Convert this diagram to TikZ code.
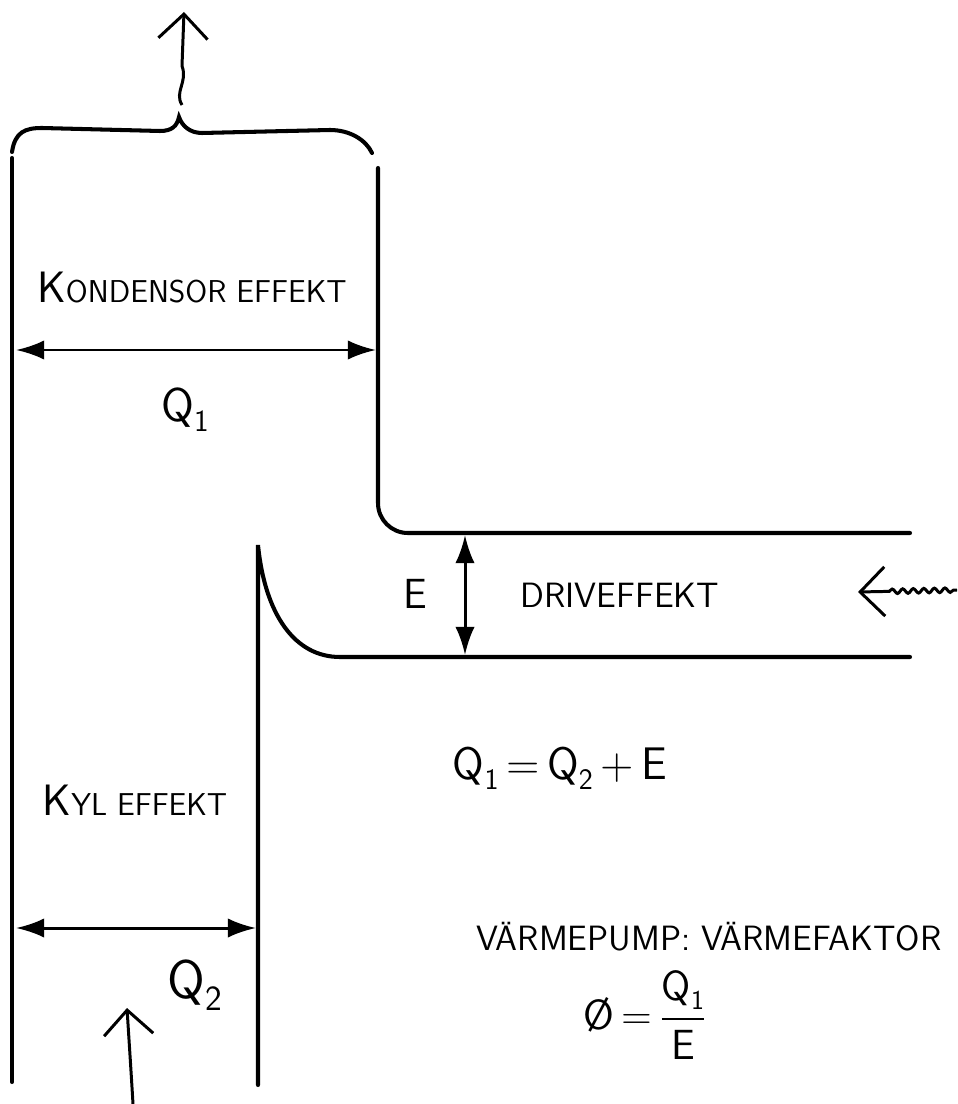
\documentclass[tikz,border=0pt]{standalone}
\usepackage{amsmath}
\usetikzlibrary{arrows.meta,decorations.pathmorphing}
\newcommand{\lowidx}[1]{\raisebox{-0.5ex}{\scalebox{0.65}{#1}}}
\tikzset{
  wall/.style={line width=2.3pt,line cap=round},
  dim/.style={line width=1.7pt,{Latex[length=16pt,width=11pt]}-{Latex[length=16pt,width=11pt]}},
  flow/.style={line width=1.7pt,-{Straight Barb[length=14pt,width=28pt]}},
  lbl/.style={font=\sffamily\fontsize{18}{20}\selectfont,inner sep=0pt},
  big/.style={font=\sffamily\fontsize{27}{30}\selectfont,inner sep=0pt}
}

\begin{document}
\begin{tikzpicture}[x=0.02cm,y=-0.02cm]
    \useasboundingbox (0,0) rectangle (957,1104);

    % Walls
    \coordinate (lw top) at (12,158);
    \coordinate (lw bot) at (12,1082);
    \coordinate (cw top) at (378,168);
    \coordinate (cw end) at (910,533);
    \coordinate (kw top) at (258,545);
    \coordinate (kw bot) at (258,1085);
    \coordinate (kw end) at (910,657);
    \draw[wall] (lw top) -- (lw bot);
    \draw[wall,rounded corners=17pt] (cw top) |- (cw end);
    \draw[wall] (kw bot) -- (kw top)
        .. controls (265,615) and (295,657) .. (340,657) -- (kw end);

    % Brace and outgoing heat
    \draw[wall] (12,152) .. controls (15,132) and (25,128) .. (42,128)
        -- (160,131) .. controls (172,131) and (177,126) .. (179,117)
        .. controls (182,126) and (190,133) .. (202,133)
        -- (330,130) .. controls (350,130) and (366,140) .. (372,153);
    \coordinate (out bot) at (182,105);
    \coordinate (out top) at (184,12);
    \draw[flow] (out bot) .. controls (174,92) and (188,82) .. (182,66) -- (out top);

    % Condenser
    \node[lbl] (kond) at (192,288) {{\fontsize{25}{28}\selectfont K}ONDENSOR EFFEKT};
    \coordinate (q1 l) at (16,350);
    \coordinate (q1 r) at (376,350);
    \draw[dim] (q1 l) -- (q1 r);
    \node[big] (q1) at (185,410) {Q\lowidx{1}};

    % Drive power
    \coordinate (e top) at (465,535);
    \coordinate (e bot) at (465,655);
    \draw[dim] (e top) -- (e bot);
    \node[font=\sffamily\fontsize{24}{27}\selectfont,inner sep=0pt] (e) at (415,594) {E};
    \node[lbl,font=\sffamily\fontsize{20}{23}\selectfont] (drive) at (620,595) {DRIVEFFEKT};
    \coordinate (in r) at (957,590);
    \coordinate (in l) at (858,592);
    \draw[flow,decorate,decoration={snake,amplitude=1.3pt,segment length=6pt,pre length=2pt,post length=16pt}] (in r) -- (in l);

    % Evaporator
    \node[lbl] (kyl) at (135,800) {{\fontsize{25}{28}\selectfont K}YL EFFEKT};
    \coordinate (q2 l) at (16,928);
    \coordinate (q2 r) at (256,928);
    \draw[dim] (q2 l) -- (q2 r);
    \node[big,font=\sffamily\fontsize{31}{34}\selectfont] (q2) at (195,985) {Q\lowidx{2}};
    \coordinate (low bot) at (133,1104);
    \coordinate (low top) at (127,1008);
    \draw[flow] (low bot) .. controls (131,1070) and (129,1040) .. (low top);

    % Relations
    \node[big,font=\sffamily\fontsize{26}{29}\selectfont] (bal) at (560,768)
        {Q\lowidx{1}\,=\,Q\lowidx{2}\,+\,E};
    \node[lbl,font=\sffamily\fontsize{20}{23}\selectfont] (vp) at (709,937) {VÄRMEPUMP: VÄRMEFAKTOR};
    \node[big,font=\sffamily\fontsize{24}{27}\selectfont] (cop) at (645,1015)
        {\O\,=\,$\dfrac{\text{Q\lowidx{1}}}{\text{E}}$};
\end{tikzpicture}
\end{document}
